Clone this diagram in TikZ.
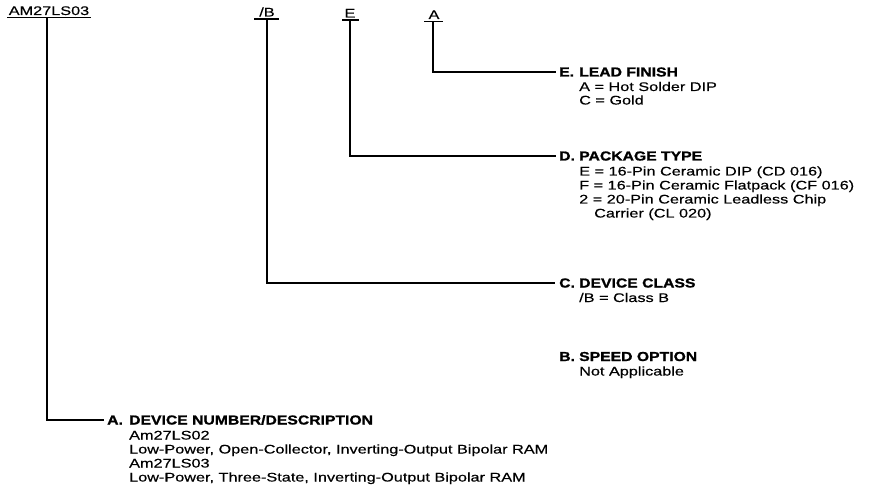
\documentclass[tikz,border=0pt]{standalone}
\usepackage{fontspec}
\setmainfont{Liberation Sans}
\newfontfamily\bodyf[FakeStretch=1.3,FakeBold=0.4]{Liberation Sans}
\newfontfamily\headf[FakeStretch=1.21,FakeBold=1.2]{Liberation Sans Bold}
\begin{document}
\begin{tikzpicture}[x=1pt,y=-1pt,
  body/.style={font=\bodyf\fontsize{12.5}{14}\selectfont, inner sep=0pt, anchor=base west},
  head/.style={font=\headf\fontsize{13}{14}\selectfont, inner sep=0pt, anchor=base west},
  lbl/.style={font=\bodyf\fontsize{12.5}{14}\selectfont, inner sep=0pt, anchor=base},
  conn/.style={line width=1.3pt},
  uline/.style={line width=1.3pt}]
\useasboundingbox (0,0) rectangle (869,502);

% top code labels
\node[lbl] (tNum) at (49,15) {AM27LS03};
\node[lbl] (tCls) at (267,16.5) {/B};
\node[lbl] (tPkg) at (350,17.5) {E};
\node[lbl] (tFin) at (434,19) {A};

\draw[uline] (7,17.5) -- (91,17.5);
\draw[uline] (254,19) -- (279,19);
\draw[uline] (342,20) -- (359,20);
\draw[uline] (424,21.5) -- (443,21.5);

\coordinate (uNum) at (47,17.5);
\coordinate (uCls) at (267,19);
\coordinate (uPkg) at (350,20);
\coordinate (uFin) at (433,21.5);

% E. lead finish
\node[head] (hFin) at (559,76.5) {\makebox[20pt][l]{E.}LEAD FINISH};
\node[body] (bFin1) at (579,91) {A = Hot Solder DIP};
\node[body] (bFin2) at (579,104.5) {C = Gold};

% D. package type
\node[head] (hPkg) at (559,160.5) {\makebox[20pt][l]{D.}PACKAGE TYPE};
\node[body] (bPkg1) at (579,175.5) {E = 16-Pin Ceramic DIP (CD 016)};
\node[body] (bPkg2) at (579,189.5) {F = 16-Pin Ceramic Flatpack (CF 016)};
\node[body] (bPkg3) at (579,203.5) {2 = 20-Pin Ceramic Leadless Chip};
\node[body] (bPkg4) at (594,217.5) {Carrier (CL 020)};

% C. device class
\node[head] (hCls) at (559,287.5) {\makebox[20pt][l]{C.}DEVICE CLASS};
\node[body] (bCls1) at (579,302) {/B = Class B};

% B. speed option
\node[head] (hSpd) at (559,361) {\makebox[20pt][l]{B.}SPEED OPTION};
\node[body] (bSpd1) at (579,375.5) {Not Applicable};

% A. device number
\node[head] (hNum) at (107,424.5) {\makebox[22pt][l]{A.}DEVICE NUMBER/DESCRIPTION};
\node[body] (bNum1) at (129,439.5) {Am27LS02};
\node[body] (bNum2) at (129,453.5) {Low-Power, Open-Collector, Inverting-Output Bipolar RAM};
\node[body] (bNum3) at (129,467.5) {Am27LS03};
\node[body] (bNum4) at (129,481.5) {Low-Power, Three-State, Inverting-Output Bipolar RAM};

% connectors
\draw[conn] (uFin) |- ([xshift=-3pt]hFin.west);
\draw[conn] (uPkg) |- ([xshift=-3pt]hPkg.west);
\draw[conn] (uCls) |- ([xshift=-4pt]hCls.west);
\draw[conn] (uNum) |- ([xshift=-3pt]hNum.west);
\end{tikzpicture}
\end{document}
